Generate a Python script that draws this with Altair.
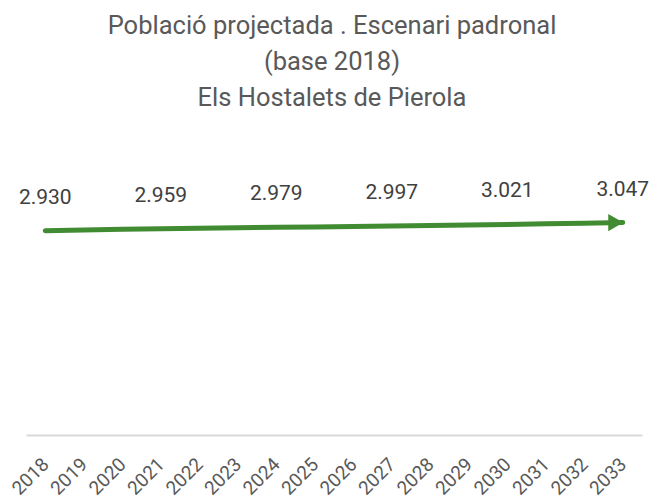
import altair as alt
import pandas as pd

years = [str(y) for y in range(2018, 2034)]
population = [2930, 2940, 2950, 2959, 2966, 2973, 2979, 2985, 2991, 2997,
              3005, 3013, 3021, 3030, 3038, 3047]
labelled_years = ["2018", "2021", "2024", "2027", "2030", "2033"]
title_lines = ["Població projectada . Escenari padronal", "(base 2018)",
               "Els Hostalets de Pierola"]

GREEN = "#418c32"
GRAY = "#595959"

df = pd.DataFrame({"year": years, "pop": population})
df["label"] = [f"{v:,}".replace(",", ".") if y in labelled_years else ""
               for y, v in zip(years, population)]

x = alt.X("year:O", scale=alt.Scale(padding=0.5),
          axis=alt.Axis(title=None, labelAngle=-45, labelAlign="right",
                        labelBaseline="middle", labelPadding=26, ticks=False,
                        domainColor="#d9d9d9", domainWidth=2, labelColor=GRAY,
                        labelFont="Roboto", labelFontSize=19, grid=False))
y = alt.Y("pop:Q", scale=alt.Scale(domain=[0, 3500], nice=False), axis=None)

base = alt.Chart(df).encode(x=x, y=y)
line = base.mark_line(color=GREEN, strokeWidth=5, strokeCap="round")
arrow = base.transform_filter(alt.datum.year == years[-1]).mark_point(
    shape="triangle-right", size=300, filled=True, opacity=1, color=GREEN,
    xOffset=-7)
labels = base.transform_filter(alt.datum.label != "").mark_text(
    dy=-33, fontSize=21, font="Roboto", color="#404040", baseline="middle"
).encode(text="label:N")

chart = alt.layer(line, arrow, labels).properties(
    width=616, height=244,
    title=alt.Title(text=title_lines, fontSize=25.5, font="Roboto",
                    color=GRAY, fontWeight="normal", lineHeight=36,
                    anchor="middle", offset=67, dx=-2),
    autosize=alt.AutoSizeParams(type="none"),
    padding={"left": 18, "top": 183, "right": 9, "bottom": 64},
).configure_view(stroke=None)

chart.save("out.html", embed_options={"renderer": "svg", "actions": False})
